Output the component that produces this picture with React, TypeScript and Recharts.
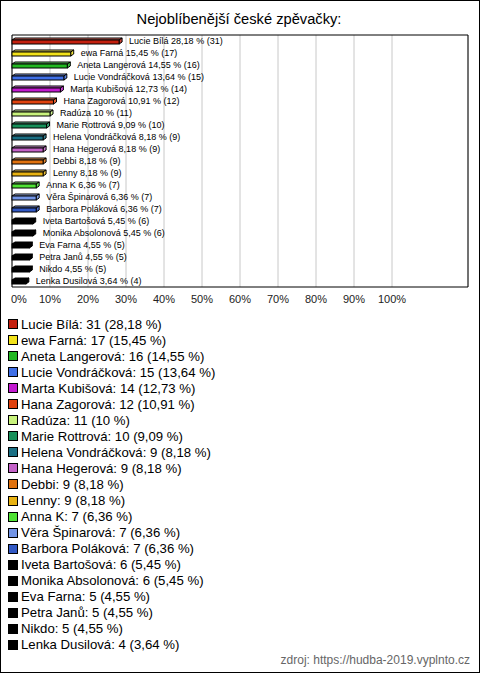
import React from "react";
import {
  Bar,
  BarChart,
  CartesianGrid,
  LabelList,
  ReferenceArea,
  XAxis,
  YAxis,
} from "recharts";

const names = [
  "Lucie Bílá",
  "ewa Farná",
  "Aneta Langerová",
  "Lucie Vondráčková",
  "Marta Kubišová",
  "Hana Zagorová",
  "Radúza",
  "Marie Rottrová",
  "Helena Vondráčková",
  "Hana Hegerová",
  "Debbi",
  "Lenny",
  "Anna K",
  "Věra Špinarová",
  "Barbora Poláková",
  "Iveta Bartošová",
  "Monika Absolonová",
  "Eva Farna",
  "Petra Janů",
  "Nikdo",
  "Lenka Dusilová",
];
const counts = [31, 17, 16, 15, 14, 12, 11, 10, 9, 9, 9, 9, 7, 7, 7, 6, 6, 5, 5, 5, 4];
const percents = [
  28.18, 15.45, 14.55, 13.64, 12.73, 10.91, 10, 9.09, 8.18, 8.18, 8.18, 8.18, 6.36, 6.36,
  6.36, 5.45, 5.45, 4.55, 4.55, 4.55, 3.64,
];
const colors = [
  "#c4200f", "#f2e21a", "#22b822", "#3f6fe6", "#c21ad0", "#e0420f", "#c8f27c",
  "#17905a", "#1a6f84", "#c362c8", "#e0720f", "#e8b212", "#4fe234", "#7395e6",
  "#3158c4", "#000000", "#000000", "#000000", "#000000", "#000000", "#000000",
];
const xTicks = [0, 10, 20, 30, 40, 50, 60, 70, 80, 90, 100];

const FONT = '"Liberation Sans", Arial, sans-serif';

const fmt = (n: number) => String(n).replace(".", ",");

const data = names.map((name, i) => ({
  name,
  value: percents[i],
  count: counts[i],
  color: colors[i],
}));

function lighten(hex: string, amt: number) {
  const n = parseInt(hex.slice(1), 16);
  const r = (n >> 16) & 255;
  const g = (n >> 8) & 255;
  const b = n & 255;
  const mix = (c: number) => Math.round(c + (255 - c) * amt);
  return `rgb(${mix(r)},${mix(g)},${mix(b)})`;
}

function Bar3D(props: any) {
  const { x, y, width, height, payload } = props;
  const d = 3;
  const e = 2;
  const c = payload.color;
  const black = c === "#000000";
  const top = black ? c : lighten(c, 0.35);
  const side = black ? c : lighten(c, 0.15);
  return (
    <g stroke="#000" strokeWidth={1}>
      <polygon
        points={`${x},${y + e} ${x + d},${y} ${x + width + d},${y} ${x + width},${y + e}`}
        fill={top}
      />
      <polygon
        points={`${x + width},${y + e} ${x + width + d},${y} ${x + width + d},${y + height - e} ${x + width},${y + height}`}
        fill={side}
      />
      <rect x={x} y={y + e} width={width} height={height - e} fill={c} />
    </g>
  );
}

function BarLabel(props: any) {
  const { x, y, width, height, index } = props;
  return (
    <text
      x={x + width + 10}
      y={y + height / 2 + 3}
      fontSize={9}
      fontFamily={FONT}
      fill="#000"
    >
      {`${names[index]} ${fmt(percents[index])} % (${counts[index]})`}
    </text>
  );
}

function Tick(props: any) {
  const { x, y, payload } = props;
  const first = payload.value === 0;
  return (
    <text
      x={first ? x - 1 : x}
      y={y}
      dy="0.71em"
      textAnchor={first ? "start" : "middle"}
      fontSize={11}
      fontFamily={FONT}
      fill="#222"
    >
      {`${payload.value}%`}
    </text>
  );
}

export default function App() {
  return (
    <div
      style={{
        position: "absolute",
        left: 0,
        top: 0,
        width: 480,
        height: 673,
        boxSizing: "border-box",
        border: "1px solid #000",
        background: "#fff",
        fontFamily: FONT,
      }}
    >
      <div
        style={{
          position: "absolute",
          left: 0,
          top: 10,
          width: 476,
          textAlign: "center",
          fontSize: 14.7,
          color: "#000",
        }}
      >
        Nejoblíbenější české zpěvačky:
      </div>
      <div style={{ position: "absolute", left: -1, top: -1 }}>
        <BarChart
          width={480}
          height={673}
          data={data}
          layout="vertical"
          margin={{ top: 35, left: 12, right: 12, bottom: 356 }}
          barCategoryGap={3}
        >
          <CartesianGrid horizontal={false} stroke="#c8c8c8" />
          <XAxis
            type="number"
            domain={[0, 120]}
            ticks={xTicks}
            axisLine={false}
            tickLine={false}
            height={30}
            tick={<Tick />}
            interval={0}
          />
          <YAxis type="category" dataKey="name" hide />
          <ReferenceArea x1={0} x2={120} fill="none" stroke="#000" strokeWidth={1} ifOverflow="visible" />
          <Bar dataKey="value" barSize={6} shape={<Bar3D />} isAnimationActive={false}>
            <LabelList dataKey="value" content={<BarLabel />} />
          </Bar>
        </BarChart>
      </div>
      <div style={{ position: "absolute", left: 7, top: 315 }}>
        {names.map((n, i) => (
          <div
            key={n}
            style={{
              display: "flex",
              alignItems: "center",
              height: 16.05,
              fontSize: 13.2,
              color: "#000",
              whiteSpace: "nowrap",
            }}
          >
            <span
              style={{
                display: "inline-block",
                width: 8,
                height: 8,
                border: "1px solid #000",
                background: colors[i],
                marginRight: 3,
              }}
            />
            {`${n}: ${counts[i]} (${fmt(percents[i])} %)`}
          </div>
        ))}
      </div>
      <div
        style={{
          position: "absolute",
          right: 9,
          top: 652,
          fontSize: 12,
          color: "#666",
        }}
      >
        zdroj: https://hudba-2019.vyplnto.cz
      </div>
    </div>
  );
}
